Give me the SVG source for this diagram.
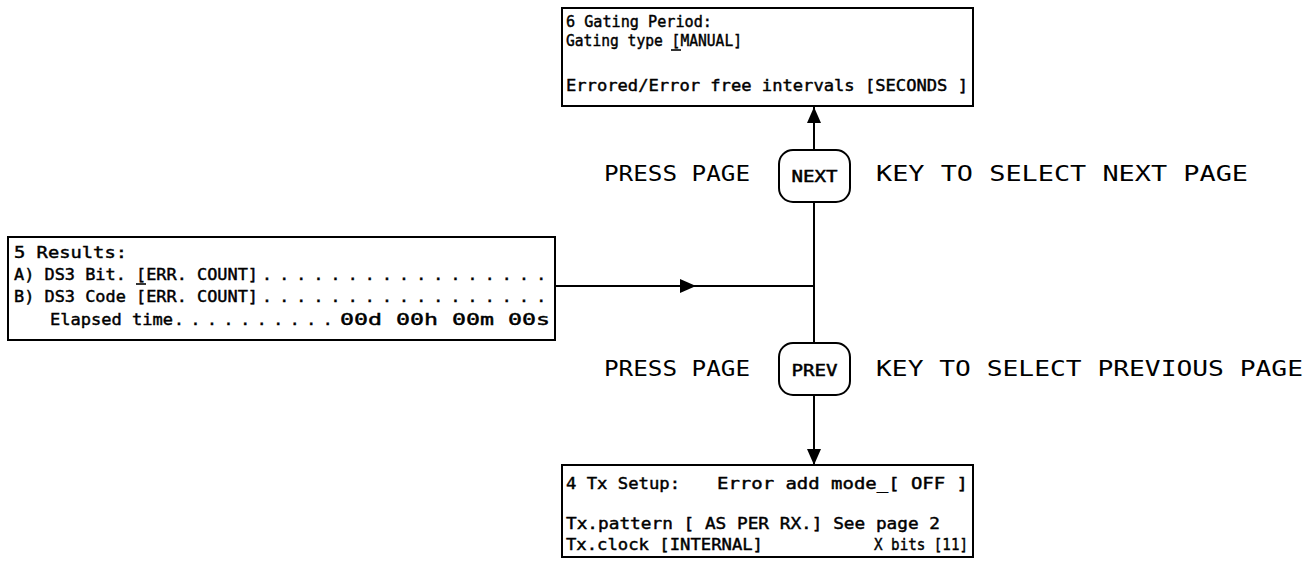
<svg xmlns="http://www.w3.org/2000/svg" width="1310" height="562" viewBox="0 0 1310 562">
<defs>
<style>
.box{fill:#fff;stroke:#000;stroke-width:2}
.key{fill:#fff;stroke:#000;stroke-width:2}
.ln{stroke:#000;stroke-width:2;fill:none}
.cur{stroke:#000;stroke-width:1.6}
.t{font-family:"DejaVu Sans Mono","Liberation Mono",monospace;font-size:16.5px;fill:#000;stroke:#000;stroke-width:0.45}
.k{font-family:"DejaVu Sans Mono","Liberation Mono",monospace;font-size:21px;fill:#000}
.kt{font-family:"DejaVu Sans Mono","Liberation Mono",monospace;font-size:16px;fill:#000;stroke:#000;stroke-width:0.5;text-anchor:middle}
</style>
<marker id="ah" markerWidth="16" markerHeight="14" refX="16" refY="7" orient="auto" markerUnits="userSpaceOnUse">
<path d="M0,0 L16,7 L0,14 Z" fill="#000"/>
</marker>
</defs>

<g id="connectors">
<line class="ln" x1="814" y1="150" x2="814" y2="107" marker-end="url(#ah)"/>
<line class="ln" x1="814" y1="202" x2="814" y2="343"/>
<line class="ln" x1="814" y1="395" x2="814" y2="465" marker-end="url(#ah)"/>
<line class="ln" x1="555" y1="286" x2="696" y2="286" marker-end="url(#ah)"/>
<line class="ln" x1="690" y1="286" x2="814" y2="286"/>
</g>

<g id="page6">
<rect class="box" x="562" y="8" width="411" height="98"/>
<text class="t" x="566" y="27" textLength="146" lengthAdjust="spacingAndGlyphs">6 Gating Period:</text>
<text class="t" x="566" y="46" textLength="176" lengthAdjust="spacingAndGlyphs">Gating type [MANUAL]</text>
<line class="cur" x1="671" y1="50" x2="681" y2="50"/>
<text class="t" x="566" y="91" textLength="402" lengthAdjust="spacingAndGlyphs">Errored/Error free intervals [SECONDS ]</text>
</g>

<g id="page5">
<rect class="box" x="8" y="237" width="547" height="103"/>
<text class="t" x="14" y="258" textLength="113" lengthAdjust="spacingAndGlyphs">5 Results:</text>
<text class="t" x="14" y="280"><tspan textLength="244" lengthAdjust="spacingAndGlyphs">A) DS3 Bit. [ERR. COUNT]</tspan><tspan x="262" letter-spacing="7.2">.................</tspan></text>
<line class="cur" x1="136" y1="284" x2="146" y2="284"/>
<text class="t" x="14" y="302"><tspan textLength="244" lengthAdjust="spacingAndGlyphs">B) DS3 Code [ERR. COUNT]</tspan><tspan x="262" letter-spacing="7.2">.................</tspan></text>
<text class="t" x="50" y="325"><tspan textLength="123" lengthAdjust="spacingAndGlyphs">Elapsed time</tspan><tspan x="174" letter-spacing="6.6">..........</tspan><tspan x="340" textLength="210" lengthAdjust="spacingAndGlyphs">00d 00h 00m 00s</tspan></text>
</g>

<g id="next-key">
<text class="k" x="604" y="181" textLength="146" lengthAdjust="spacingAndGlyphs">PRESS PAGE</text>
<rect class="key" x="779" y="150" width="71" height="52" rx="14"/>
<text class="kt" x="814.5" y="182" textLength="46" lengthAdjust="spacingAndGlyphs">NEXT</text>
<text class="k" x="876" y="181" textLength="372" lengthAdjust="spacingAndGlyphs">KEY TO SELECT NEXT PAGE</text>
</g>

<g id="prev-key">
<text class="k" x="604" y="376" textLength="146" lengthAdjust="spacingAndGlyphs">PRESS PAGE</text>
<rect class="key" x="779" y="343" width="71" height="52" rx="14"/>
<text class="kt" x="814.5" y="376" textLength="46" lengthAdjust="spacingAndGlyphs">PREV</text>
<text class="k" x="876" y="376" textLength="427" lengthAdjust="spacingAndGlyphs">KEY TO SELECT PREVIOUS PAGE</text>
</g>

<g id="page4">
<rect class="box" x="562" y="465" width="411" height="92"/>
<text class="t" x="566" y="489"><tspan textLength="114" lengthAdjust="spacingAndGlyphs">4 Tx Setup:</tspan><tspan x="717" textLength="251" lengthAdjust="spacingAndGlyphs">Error add mode_[ OFF ]</tspan></text>
<text class="t" x="566" y="529" textLength="374" lengthAdjust="spacingAndGlyphs">Tx.pattern [ AS PER RX.] See page 2</text>
<text class="t" x="566" y="550"><tspan textLength="197" lengthAdjust="spacingAndGlyphs">Tx.clock [INTERNAL]</tspan><tspan x="874" textLength="94" lengthAdjust="spacingAndGlyphs">X bits [11]</tspan></text>
</g>
</svg>
